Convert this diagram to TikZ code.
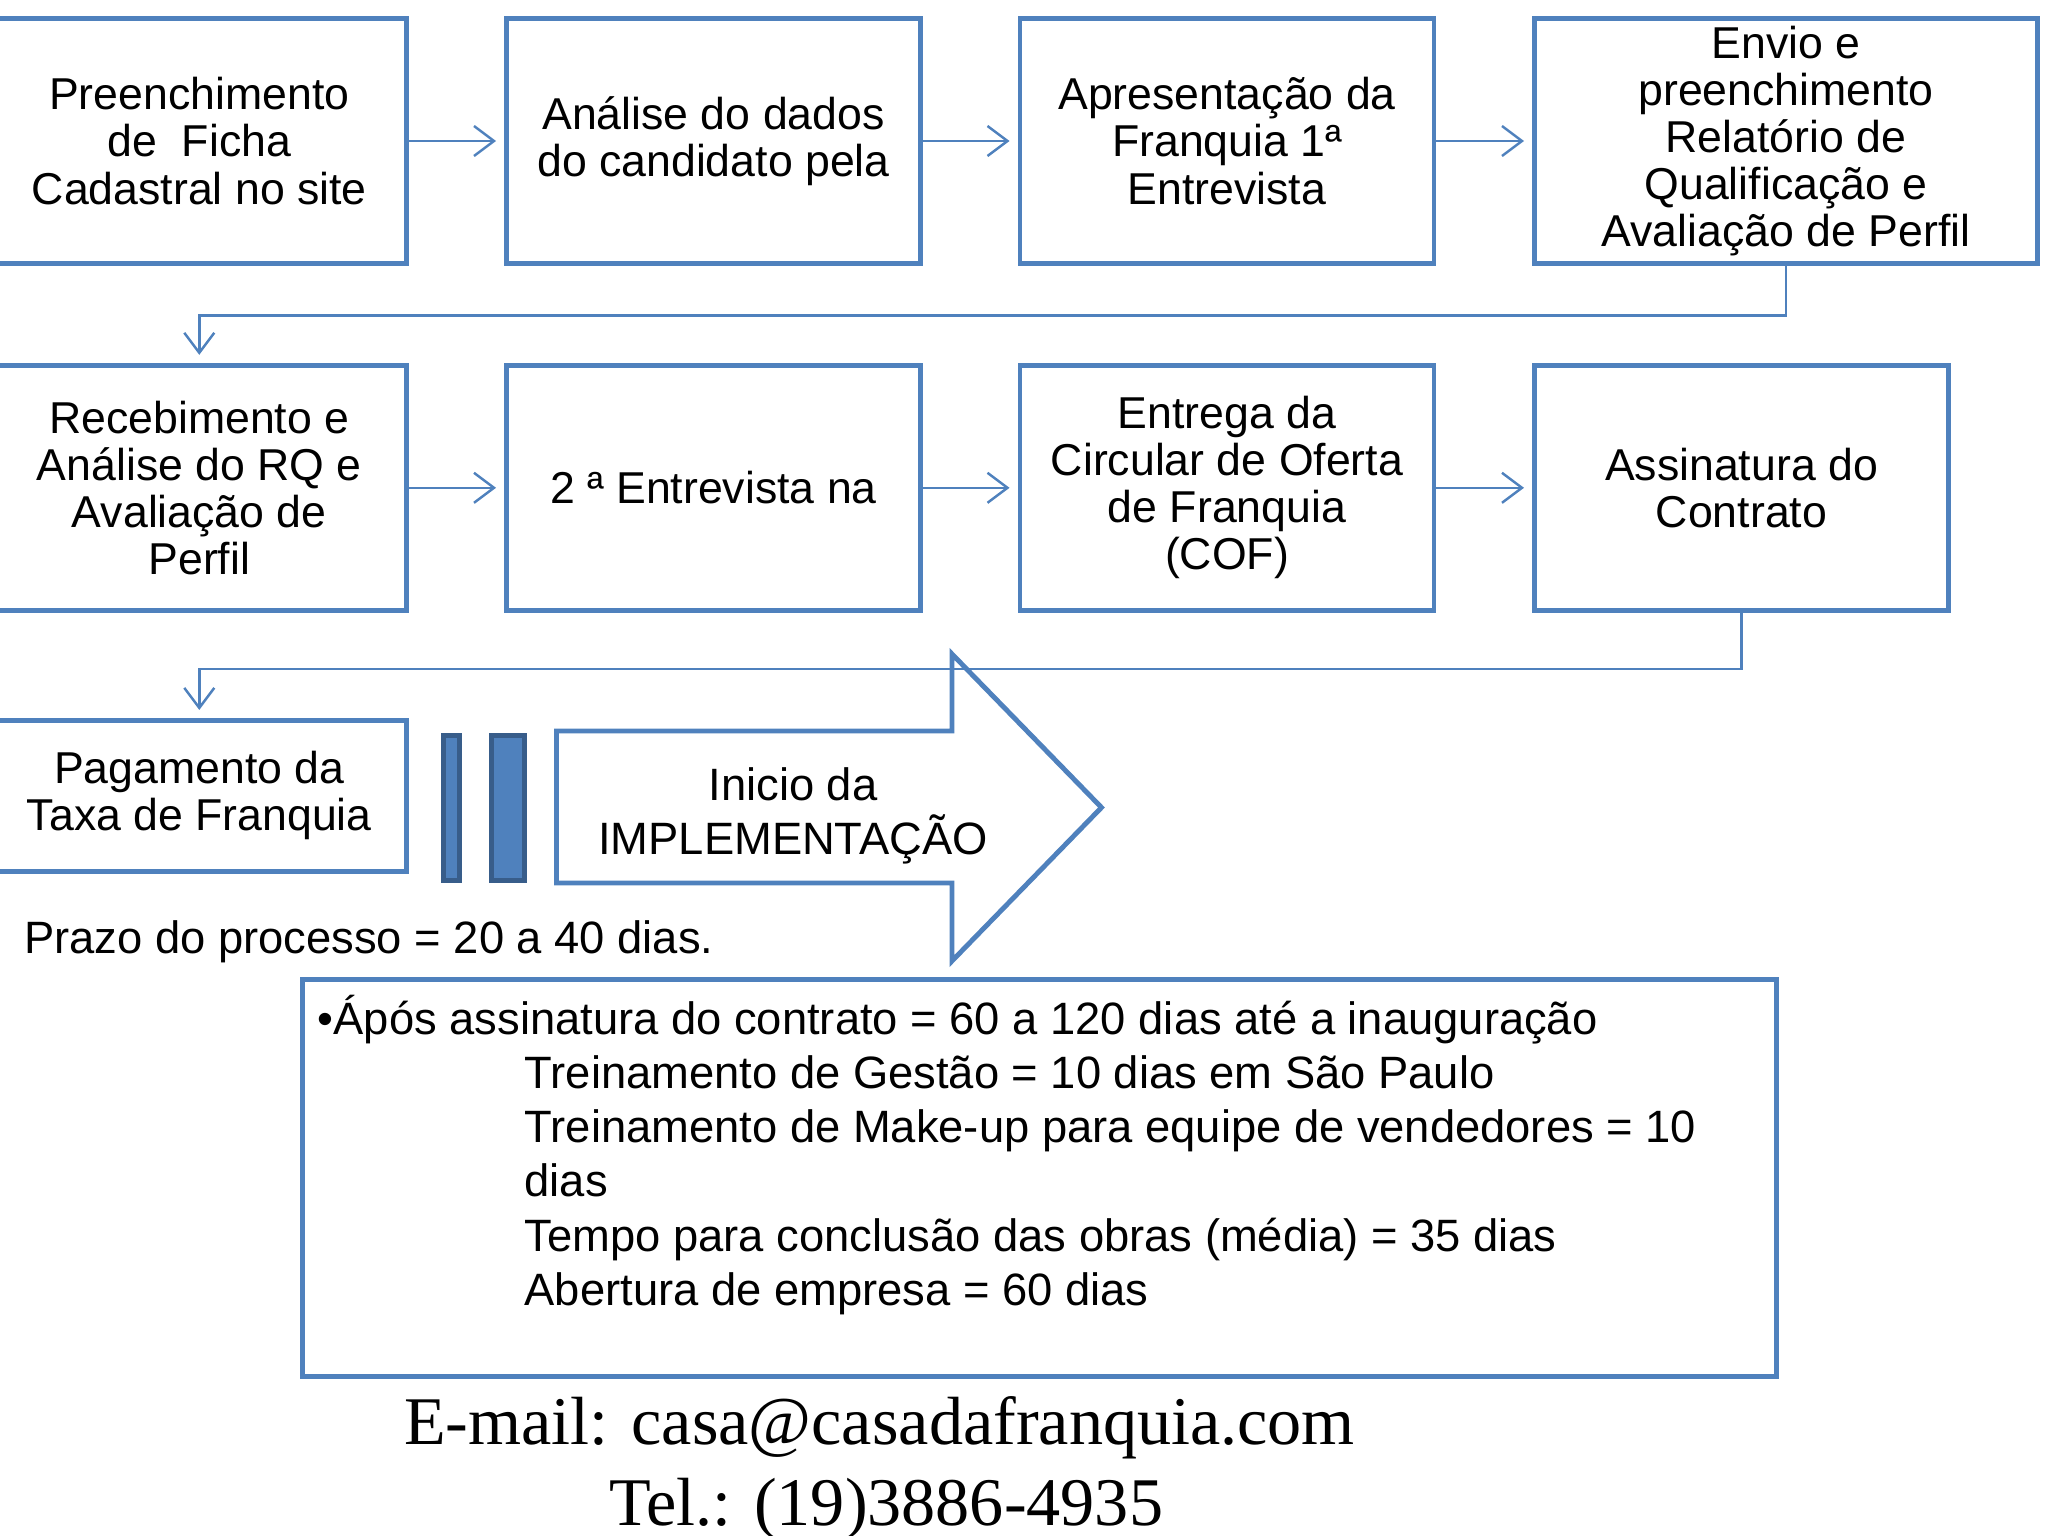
\documentclass[tikz,border=0pt]{standalone}
\usepackage{fontspec}
\setmainfont{Liberation Sans}
\newfontfamily\timesfont{Liberation Serif}
\usetikzlibrary{arrows.meta, positioning, calc}
\definecolor{cBlue}{RGB}{79,129,189}
\definecolor{cDarkBlue}{RGB}{56,93,138}
\tikzset{
  %% process boxes
  pbox/.style={rectangle, draw=cBlue, fill=white, line width=1.4pt,
               minimum width=4.14cm, minimum height=2.45cm, align=center,
               inner xsep=2pt, inner ysep=0pt,
               font=\fontsize{12.7}{13.4}\selectfont},
  pboxW/.style={pbox, minimum width=5.03cm},
  pboxS/.style={pbox, minimum height=1.51cm},
  %% separator bars
  sepbar/.style={rectangle, draw=cDarkBlue, fill=cBlue, line width=1.4pt,
                 minimum height=1.45cm, inner sep=0pt},
  %% arrows
  flowarrow/.style={-{Straight Barb[length=0.2cm, width=0.3cm]}, draw=cBlue,
                    line width=0.7pt, shorten >=0.08cm},
  %% info box and texts
  infobox/.style={rectangle, draw=cBlue, line width=1.4pt,
                  minimum width=14.74cm, minimum height=3.97cm, inner sep=0pt},
  infotext/.style={font=\fontsize{12.9}{15.45}\selectfont, align=left,
                   inner sep=0pt, anchor=base west},
  contact/.style={font=\timesfont\fontsize{19.4}{23}\selectfont,
                  inner sep=0pt, anchor=base west},
}

\begin{document}
\begin{tikzpicture}
\useasboundingbox (0,0) rectangle (20.48,-15.36);

%% ============================================================
%%  ROW 1
%% ============================================================
\def\ya{-1.41}
\node[pbox]  (ficha)   at (1.993, \ya) {Preenchimento\\de\ \ Ficha\\Cadastral no site};
\node[pbox]  (analise) at (7.135, \ya) {Análise do dados\\do candidato pela};
\node[pbox]  (apres)   at (12.27, \ya) {Apresentação da\\Franquia 1ª\\Entrevista};
\node[pboxW] (envio)   at (17.86, \ya) {Envio e\\preenchimento\\Relatório de\\Qualificação e\\Avaliação de Perfil};

%% ============================================================
%%  ROW 2
%% ============================================================
\def\yb{-4.878}
\node[pbox] (receb)    at (1.993, \yb) {Recebimento e\\Análise do RQ e\\Avaliação de\\Perfil};
\node[pbox] (entrev)   at (7.135, \yb) {2 ª Entrevista na};
\node[pbox] (cof)      at (12.27, \yb) {Entrega da\\Circular de Oferta\\de Franquia\\(COF)};
\node[pbox] (contrato) at (17.415, \yb) {Assinatura do\\Contrato};

%% ============================================================
%%  ROW 3
%% ============================================================
\def\yc{-7.959}
\node[pboxS] (taxa) at (1.993, \yc) {Pagamento da\\Taxa de Franquia};
\node[sepbar, minimum width=0.163cm] (barA) at (4.514, -8.08) {};
\node[sepbar, minimum width=0.327cm] (barB) at (5.078, -8.08) {};

%% big arrow
\draw[cBlue, line width=1.4pt, fill=white, line join=miter]
  (5.565,-7.31) -- (9.52,-7.31) -- (9.52,-6.54) -- (11.015,-8.075)
  -- (9.52,-9.61) -- (9.52,-8.83) -- (5.565,-8.83) -- cycle;
\node[align=center, inner sep=0pt, font=\fontsize{12.9}{15.2}\selectfont]
  (impl) at (7.93,-8.16) {Inicio da\\IMPLEMENTAÇÃO};

%% ============================================================
%%  Connectors
%% ============================================================
\draw[flowarrow] (ficha.east)   -- (analise.west);
\draw[flowarrow] (analise.east) -- (apres.west);
\draw[flowarrow] (apres.east)   -- (envio.west);
\draw[flowarrow] (receb.east)   -- (entrev.west);
\draw[flowarrow] (entrev.east)  -- (cof.west);
\draw[flowarrow] (cof.east)     -- (contrato.west);

\draw[flowarrow] (envio.south) -- ++(0,-0.496) -| (receb.north);
\draw[flowarrow] (contrato.south) -- ++(0,-0.56) -| (taxa.north);

%% ============================================================
%%  Notes
%% ============================================================
\node[infotext] (prazo) at (0.235,-9.54) {Prazo do processo = 20 a 40 dias.};

\node[infobox] (info) at (10.397,-11.78) {};
%% base anchor = last line
\node[infotext] (infotxt) at (3.17,-13.055) {%
  •Ápós assinatura do contrato = 60 a 120 dias até a inauguração\\
  \hspace*{2.07cm}Treinamento de Gestão = 10 dias em São Paulo\\
  \hspace*{2.07cm}Treinamento de Make-up para equipe de vendedores = 10\\
  \hspace*{2.07cm}dias\\
  \hspace*{2.07cm}Tempo para conclusão das obras (média) = 35 dias\\
  \hspace*{2.07cm}Abertura de empresa = 60 dias
};

\node[contact] (email) at (4.036,-14.44) {E-mail: casa@casadafranquia.com};
\node[contact] (tel)   at (6.086,-15.25) {Tel.: (19)3886-4935};

\end{tikzpicture}
\end{document}
